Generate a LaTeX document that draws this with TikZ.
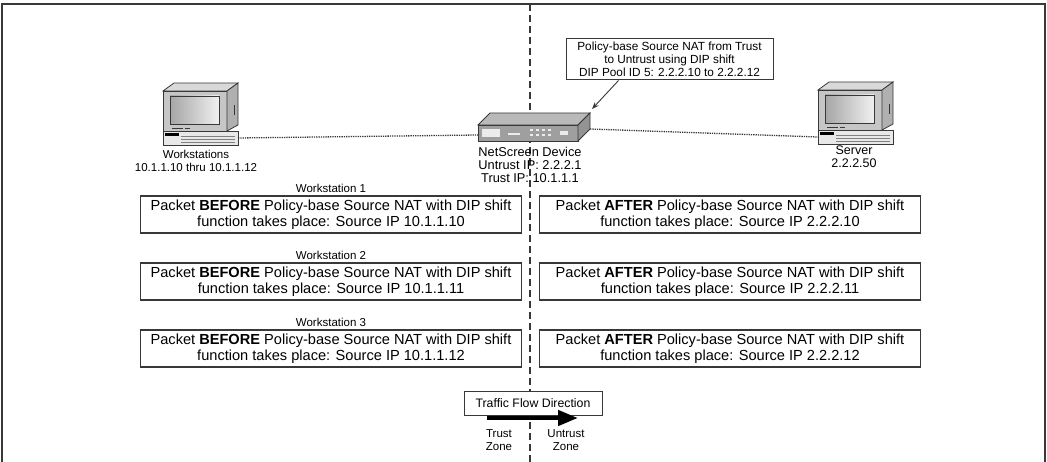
\documentclass[tikz,border=0pt]{standalone}
\usepackage{fontspec}
\setmainfont{Liberation Sans}
\usetikzlibrary{arrows.meta, positioning}

\definecolor{edge}{gray}{0.22}

% desktop computer and firewall box, drawn in pixel units
\tikzset{
  pics/computer/.style={code={
      \begin{scope}[draw=edge, line width=0.8pt]
        \filldraw[fill=gray!30] (0,0) -- (11,-8) -- (75,-8) -- (64,0) -- cycle;
        \filldraw[fill=gray!45] (0,0) rectangle (64,40);
        \filldraw[fill=gray!62] (64,0) -- (75,-8) -- (75,34) -- (64,40) -- cycle;
        \path[draw=edge, left color=gray!70, right color=gray!12] (7,5) rectangle (56,33);
        \draw[line width=0.5pt] (9,37) -- (20,37) (22,37) -- (27,37);
        \draw[line width=1pt] (71,14) -- (71,24);
        \filldraw[fill=gray!18] (0,40) rectangle (75,54);
        \foreach \k in {45,48,51}
          \draw[gray, line width=0.4pt] (18,\k) -- (72,\k);
        \fill[black] (2,42.5) rectangle (16,45);
      \end{scope}
      \coordinate (-l) at (0,47);
      \coordinate (-r) at (75,47);
  }},
  pics/firewall/.style={code={
      \begin{scope}[draw=edge, line width=0.8pt]
        \filldraw[fill=gray!55] (0,0) -- (12,-12) -- (112,-12) -- (100,0) -- cycle;
        \filldraw[fill=gray!75] (0,0) rectangle (100,16);
        \filldraw[fill=gray!85] (100,0) -- (112,-12) -- (112,4) -- (100,16) -- cycle;
        \fill[gray!15] (4,4) rectangle (22,12);
        \fill[gray!15] (30,8) rectangle ++(12,2);
        \foreach \px in {52,58,64,70} {
          \fill[gray!15] (\px,4.5) rectangle ++(3,2);
          \fill[gray!15] (\px,9) rectangle ++(3,2);
        }
        \fill[gray!15] (82,6) rectangle ++(8,4);
      \end{scope}
      \coordinate (-l) at (0,10);
      \coordinate (-r) at (112,4);
      \coordinate (-top) at (114,-16);
  }},
}

\begin{document}
\begin{tikzpicture}[x=1pt, y=-1pt, >=Stealth,
    lbl/.style={align=center, inner sep=0pt, font=\fontsize{11.5}{12.8}\selectfont},
    pkt/.style={draw=edge, line width=1.2pt, align=center, minimum width=381pt,
      minimum height=37pt, inner sep=0pt, font=\fontsize{14.6}{16}\selectfont},
    wire/.style={densely dotted, line width=1.3pt, edge}]
  \useasboundingbox (0,0) rectangle (1047,462);

  % frame and zone border
  \coordinate (top) at (530,4);
  \coordinate (bot) at (530,462);
  \draw[line width=2pt, edge] (2,462) -- (2,4) -- (1045,4) -- (1045,462);
  \draw[edge, line width=1.4pt, dash pattern=on 7pt off 4pt] (top) -- (bot);

  % hosts and the firewall
  \pic (ws) at (163,91) {computer};
  \pic (srv) at (818,90) {computer};
  \pic (ns) at (478,125) {firewall};
  \draw[wire] (ws-r) -- (ns-l);
  \draw[wire] (ns-r) -- (srv-l);

  \node[lbl] (wslbl) at (196,161) {Workstations\\10.1.1.10 thru 10.1.1.12};
  \node[lbl, font=\fontsize{12.5}{13}\selectfont] (srvlbl) at (854,157) {Server\\2.2.2.50};
  \node[lbl, font=\fontsize{12.8}{13}\selectfont] (nslbl) at (530,165) {NetScreen Device\\Untrust IP: 2.2.2.1\\Trust IP: 10.1.1.1};

  \node[draw=edge, line width=1pt, fill=white, lbl, font=\fontsize{11.8}{13}\selectfont,
    minimum width=207pt, minimum height=41pt]
    (note) at (669.5,59.5) {Policy-base Source NAT from Trust\\to Untrust using DIP shift\\DIP Pool ID 5: 2.2.2.10 to 2.2.2.12};
  \draw[->, edge, line width=0.9pt] ([xshift=-51pt]note.south) -- (ns-top);

  % packets before and after translation
  \foreach \i/\n in {1/10, 2/11, 3/12} {
    \pgfmathsetmacro{\yy}{214.5+67*(\i-1)}
    \node[lbl] (w\i) at (331,\yy-26.5) {Workstation \i};
    \node[pkt] (b\i) at (331,\yy) {Packet \textbf{BEFORE} Policy-base Source NAT with DIP shift\\function takes place: Source IP 10.1.1.\n};
    \node[pkt] (a\i) at (730,\yy) {Packet \textbf{AFTER} Policy-base Source NAT with DIP shift\\function takes place: Source IP 2.2.2.\n};
  }

  % direction of traffic
  \node[draw=edge, line width=1pt, fill=white, lbl, font=\fontsize{12.3}{13}\selectfont,
    minimum width=138pt, minimum height=24pt]
    (flow) at (533,403) {Traffic Flow Direction};
  \coordinate (fl0) at (487,418);
  \coordinate (fl1) at (578,418);
  \draw[-{Triangle[length=20pt, width=15pt]}, line width=4.5pt, black] (fl0) -- (fl1);
  \node[lbl] (tz) at (499,440) {Trust\\Zone};
  \node[lbl] (uz) at (566,440) {Untrust\\Zone};
\end{tikzpicture}
\end{document}
